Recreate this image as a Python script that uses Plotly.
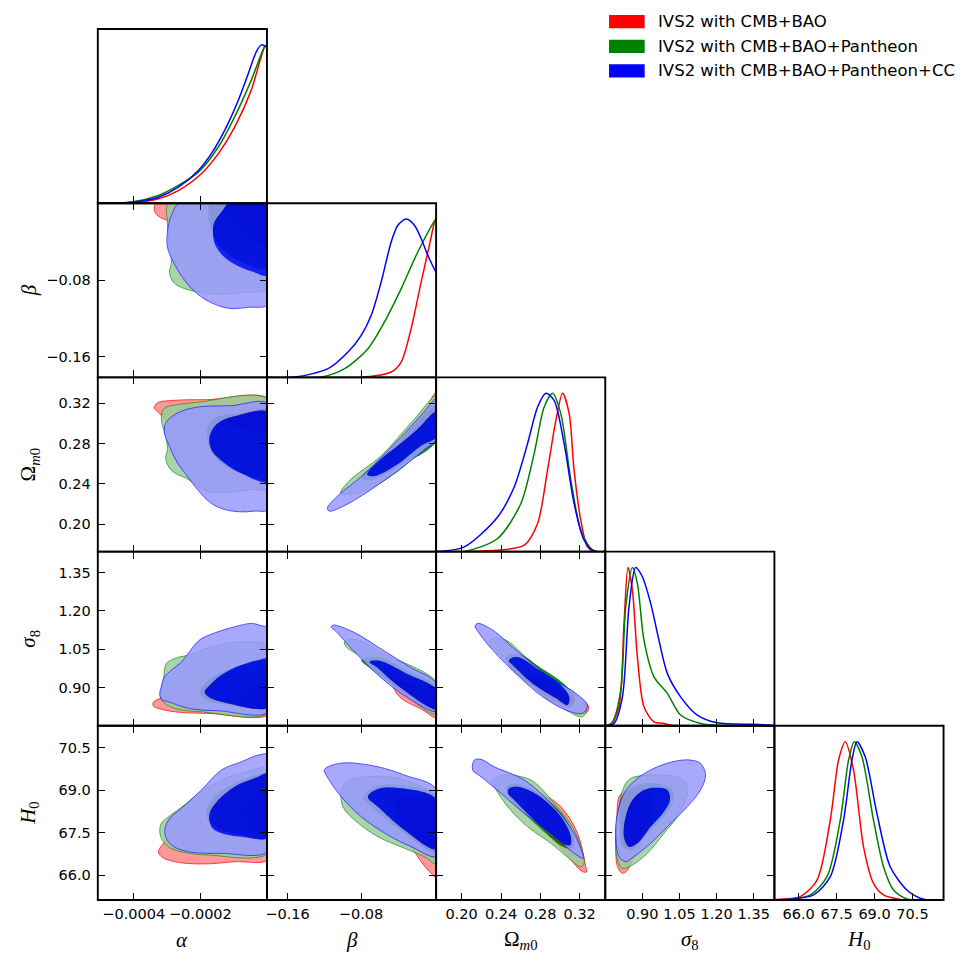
import plotly.graph_objects as go

# ---------------- labels ----------------
series_names = ["IVS2 with CMB+BAO", "IVS2 with CMB+BAO+Pantheon", "IVS2 with CMB+BAO+Pantheon+CC"]
series_colors = ["#ff0000", "#008000", "#0000ff"]
outer_fill = ["rgb(255,153,153)", "rgb(153,204,153)", "rgb(153,153,255)"]
series_alpha = [1.0, 0.85, 0.85]

alpha_ticks = [-0.0004, -0.0002]
alpha_ticktext = ["−0.0004", "−0.0002"]
beta_ticks = [-0.16, -0.08]
beta_ticktext = ["−0.16", "−0.08"]
om_ticks = [0.20, 0.24, 0.28, 0.32]
om_ticktext = ["0.20", "0.24", "0.28", "0.32"]
s8_ticks = [0.90, 1.05, 1.20, 1.35]
s8_ticktext = ["0.90", "1.05", "1.20", "1.35"]
h0_ticks = [66.0, 67.5, 69.0, 70.5]
h0_ticktext = ["66.0", "67.5", "69.0", "70.5"]

param_titles = ["<i>α</i>", "<i>β</i>", "Ω<sub><i>m</i>0</sub>", "<i>σ</i><sub>8</sub>", "<i>H</i><sub>0</sub>"]

# ---------------- 1D marginal densities (x, P/Pmax) ----------------
pdf_alpha_red = [(-5.08e-4, 0.0), (-4.07e-4, 0.004), (-3.26e-4, 0.028), (-2.66e-4, 0.080), (-1.97e-4, 0.186),
                 (-1.46e-4, 0.313), (-0.97e-4, 0.481), (-0.47e-4, 0.714), (-0.07e-4, 0.988), (0.0, 1.0)]
pdf_alpha_green = [(-5.08e-4, 0.0), (-4.07e-4, 0.008), (-3.26e-4, 0.049), (-2.66e-4, 0.112), (-2.06e-4, 0.196),
                   (-1.46e-4, 0.355), (-0.97e-4, 0.545), (-0.47e-4, 0.777), (-0.07e-4, 0.988), (0.0, 1.0)]
pdf_alpha_blue = [(-5.08e-4, 0.0), (-4.07e-4, 0.006), (-3.26e-4, 0.038), (-2.66e-4, 0.101), (-2.06e-4, 0.207),
                  (-1.67e-4, 0.313), (-1.27e-4, 0.460), (-0.86e-4, 0.650), (-0.56e-4, 0.819), (-0.32e-4, 0.956),
                  (-0.17e-4, 1.0), (-0.05e-4, 0.992), (0.0, 0.985)]

pdf_beta_red = [(-0.1824, 0.0), (-0.0798, 0.0), (-0.0472, 0.034), (-0.0363, 0.097), (-0.0255, 0.308),
                (-0.0146, 0.602), (-0.0056, 0.834), (0.0006, 0.993), (0.0017, 1.0)]
pdf_beta_green = [(-0.1824, 0.0), (-0.1232, 0.002), (-0.0979, 0.055), (-0.0725, 0.181), (-0.0545, 0.350),
                  (-0.0363, 0.561), (-0.0182, 0.792), (0.0006, 0.993), (0.0017, 1.0)]
pdf_beta_blue = [(-0.1824, 0.0), (-0.1522, 0.002), (-0.1159, 0.055), (-0.0942, 0.160), (-0.0798, 0.266),
                 (-0.0689, 0.392), (-0.0581, 0.602), (-0.0472, 0.855), (-0.0399, 0.961), (-0.0309, 1.0),
                 (-0.0219, 0.961), (-0.0146, 0.877), (-0.0073, 0.771), (0.0006, 0.676), (0.0017, 0.668)]

pdf_om_red = [(0.174, 0.0), (0.2366, 0.009), (0.2636, 0.041), (0.2772, 0.178), (0.2873, 0.514), (0.2958, 0.829),
              (0.3026, 1.0), (0.3093, 0.871), (0.3143, 0.514), (0.3211, 0.199), (0.3279, 0.030), (0.3346, 0.0),
              (0.346, 0.0)]
pdf_om_green = [(0.174, 0.0), (0.2027, 0.0), (0.2366, 0.083), (0.2602, 0.304), (0.2737, 0.619), (0.2839, 0.913),
                (0.2924, 1.0), (0.3008, 0.871), (0.3110, 0.451), (0.3211, 0.136), (0.3313, 0.020), (0.3381, 0.0),
                (0.346, 0.0)]
pdf_om_blue = [(0.174, 0.0), (0.1757, 0.0), (0.2027, 0.030), (0.2366, 0.219), (0.2534, 0.408), (0.2670, 0.682),
               (0.2772, 0.913), (0.2856, 1.0), (0.2940, 0.955), (0.3042, 0.682), (0.3143, 0.304), (0.3245, 0.072),
               (0.3346, 0.003), (0.346, 0.0)]

pdf_s8_red = [(0.75, 0.0), (0.7722, 0.004), (0.8056, 0.120), (0.8258, 0.647), (0.8419, 1.0), (0.8597, 0.857),
              (0.8798, 0.436), (0.9064, 0.120), (0.9468, 0.025), (0.9871, 0.015), (1.0141, 0.004), (1.05, 0.0),
              (1.4335, 0.0)]
pdf_s8_green = [(0.75, 0.0), (0.7790, 0.025), (0.8125, 0.225), (0.8327, 0.751), (0.8597, 1.0), (0.8798, 0.899),
                (0.9064, 0.541), (0.9468, 0.309), (1.0008, 0.205), (1.0544, 0.068), (1.1351, 0.015),
                (1.2024, 0.004), (1.30, 0.0), (1.4335, 0.0)]
pdf_s8_blue = [(0.75, 0.0), (0.7855, 0.015), (0.8194, 0.183), (0.8460, 0.751), (0.8730, 1.0), (0.9000, 0.941),
               (0.9335, 0.773), (0.9669, 0.541), (1.0008, 0.331), (1.0544, 0.183), (1.1218, 0.068),
               (1.2024, 0.019), (1.3500, 0.009), (1.4294, 0.003)]

pdf_h0_red = [(65.04, 0.0), (65.147, 0.004), (66.066, 0.021), (66.725, 0.126), (67.250, 0.505), (67.578, 0.884),
              (67.842, 1.0), (68.170, 0.820), (68.565, 0.336), (68.959, 0.105), (69.354, 0.032), (70.013, 0.004),
              (70.5, 0.0)]
pdf_h0_green = [(65.04, 0.0), (65.541, 0.004), (66.461, 0.032), (67.120, 0.147), (67.645, 0.505), (67.973, 0.884),
                (68.198, 1.0), (68.502, 0.904), (68.959, 0.505), (69.354, 0.210), (69.749, 0.063),
                (70.278, 0.006), (70.8, 0.0)]
pdf_h0_blue = [(65.04, 0.0), (65.672, 0.004), (66.591, 0.032), (67.250, 0.147), (67.775, 0.505), (68.107, 0.884),
               (68.304, 1.0), (68.632, 0.904), (69.094, 0.547), (69.619, 0.210), (70.278, 0.063),
               (70.803, 0.011), (71.067, 0.0)]

# ---------------- 2D contours (95% outer, 68% inner), (x, y) ----------------
alpha_beta_red_95 = [(-3.29e-4, 0.003), (-3.38e-4, -0.0064), (-3.26e-4, -0.0127), (-2.93e-4, -0.0179),
                     (-2.57e-4, -0.0221), (-1.97e-4, -0.0327), (-1.58e-4, -0.0379), (-0.98e-4, -0.0484),
                     (-0.47e-4, -0.0547), (1e-5, -0.0568), (1e-5, 0.003)]
alpha_beta_red_68 = [(-1.3e-4, 0.003), (-1.25e-4, -0.008), (-1.0e-4, -0.02), (-0.6e-4, -0.032), (-0.2e-4, -0.040),
                     (1e-5, -0.042), (1e-5, 0.003)]
alpha_beta_green_95 = [(-2.93e-4, 0.003), (-2.99e-4, -0.019), (-2.93e-4, -0.0432), (-2.87e-4, -0.061),
                       (-2.93e-4, -0.0716), (-2.81e-4, -0.0821), (-2.42e-4, -0.0894), (-1.46e-4, -0.0947),
                       (-0.77e-4, -0.0926), (1e-5, -0.0873), (1e-5, 0.003)]
alpha_beta_green_68 = [(-1.67e-4, 0.003), (-1.76e-4, -0.0095), (-1.70e-4, -0.0232), (-1.55e-4, -0.0379),
                       (-1.25e-4, -0.0505), (-0.77e-4, -0.061), (1e-5, -0.0674), (1e-5, 0.003)]
alpha_beta_blue_95 = [(-2.57e-4, 0.003), (-2.87e-4, -0.0116), (-2.99e-4, -0.0295), (-2.99e-4, -0.0453),
                      (-2.81e-4, -0.061), (-2.54e-4, -0.0768), (-2.21e-4, -0.0905), (-1.76e-4, -0.1021),
                      (-1.16e-4, -0.1094), (-0.56e-4, -0.1084), (1e-5, -0.1042), (1e-5, 0.003)]
alpha_beta_blue_68 = [(-1.07e-4, 0.003), (-1.37e-4, -0.0085), (-1.58e-4, -0.019), (-1.62e-4, -0.0305),
                      (-1.55e-4, -0.0432), (-1.31e-4, -0.0547), (-0.92e-4, -0.0642), (-0.47e-4, -0.0705),
                      (1e-5, -0.0747), (1e-5, 0.003)]

alpha_om_red_95 = [(1e-5, 0.3235), (-1.79e-4, 0.3237), (-2.78e-4, 0.3230), (-3.29e-4, 0.3205), (-3.38e-4, 0.3153),
                   (-3.23e-4, 0.3101), (-2.99e-4, 0.3022), (-2.48e-4, 0.2922), (-2.09e-4, 0.2840),
                   (-1.79e-4, 0.2774), (-1.69e-4, 0.2707), (-1.49e-4, 0.2674), (-0.89e-4, 0.2657),
                   (-0.38e-4, 0.2608), (1e-5, 0.2590)]
alpha_om_red_68 = [(1e-5, 0.318), (-0.8e-4, 0.314), (-1.2e-4, 0.305), (-0.9e-4, 0.296), (-0.3e-4, 0.292),
                   (1e-5, 0.291)]
alpha_om_green_95 = [(1e-5, 0.3230), (-2.09e-4, 0.3210), (-2.69e-4, 0.3187), (-3.08e-4, 0.3153), (-3.17e-4, 0.3081),
                     (-3.14e-4, 0.2982), (-3.04e-4, 0.2873), (-2.99e-4, 0.2741), (-3.04e-4, 0.2657),
                     (-2.93e-4, 0.2558), (-2.69e-4, 0.2493), (-2.44e-4, 0.2459), (-1.79e-4, 0.2327),
                     (-1.09e-4, 0.2317), (-0.49e-4, 0.2344), (1e-5, 0.2362)]
alpha_om_green_68 = [(1e-5, 0.3131), (-0.77e-4, 0.3101), (-1.52e-4, 0.3061), (-1.76e-4, 0.2982), (-1.79e-4, 0.2833),
                     (-1.61e-4, 0.2684), (-1.22e-4, 0.2565), (-0.62e-4, 0.2486), (1e-5, 0.2446)]
alpha_om_blue_95 = [(1e-5, 0.3187), (-1.09e-4, 0.3177), (-2.09e-4, 0.3163), (-2.69e-4, 0.3104), (-3.04e-4, 0.3005),
                    (-3.08e-4, 0.2905), (-2.93e-4, 0.2774), (-2.69e-4, 0.2608), (-2.39e-4, 0.2476),
                    (-2.09e-4, 0.2344), (-1.69e-4, 0.2211), (-1.28e-4, 0.2146), (-0.79e-4, 0.2122),
                    (-0.38e-4, 0.2129), (1e-5, 0.2153)]
alpha_om_blue_68 = [(1e-5, 0.3106), (-0.89e-4, 0.3078), (-1.39e-4, 0.3022), (-1.64e-4, 0.2939), (-1.73e-4, 0.2840),
                    (-1.64e-4, 0.2724), (-1.28e-4, 0.2608), (-0.79e-4, 0.2509), (1e-5, 0.2421)]

alpha_s8_red_95 = [(1e-5, 0.9417), (-0.97e-4, 0.9417), (-1.57e-4, 0.9355), (-2.17e-4, 0.9159), (-2.57e-4, 0.8831),
                   (-3.07e-4, 0.8635), (-3.41e-4, 0.8428), (-3.41e-4, 0.8271), (-3.26e-4, 0.8181),
                   (-2.77e-4, 0.8048), (-1.76e-4, 0.7985), (1e-5, 0.7977)]
alpha_s8_red_68 = [(1e-5, 0.90), (-0.5e-4, 0.895), (-0.9e-4, 0.87), (-0.6e-4, 0.835), (1e-5, 0.825)]
alpha_s8_green_95 = [(1e-5, 1.0579), (-0.77e-4, 1.0787), (-1.46e-4, 1.0657), (-1.97e-4, 1.0462), (-2.37e-4, 1.0266),
                     (-2.77e-4, 1.0137), (-3.02e-4, 0.9941), (-3.07e-4, 0.9746), (-3.11e-4, 0.9288),
                     (-3.20e-4, 0.8701), (-3.14e-4, 0.8467), (-2.77e-4, 0.8181), (-1.97e-4, 0.8048),
                     (1e-5, 0.8048)]
alpha_s8_green_68 = [(1e-5, 0.9993), (-0.77e-4, 0.9875), (-1.37e-4, 0.9601), (-1.82e-4, 0.9210), (-2.00e-4, 0.8819),
                     (-1.82e-4, 0.8506), (-1.07e-4, 0.8310), (1e-5, 0.8244)]
alpha_s8_blue_95 = [(1e-5, 1.1244), (-0.23e-4, 1.1440), (-0.47e-4, 1.1506), (-0.98e-4, 1.1373), (-1.58e-4, 1.1127),
                    (-2.03e-4, 1.0853), (-2.36e-4, 1.0344), (-2.57e-4, 0.9993), (-2.87e-4, 0.9680),
                    (-3.08e-4, 0.9406), (-3.17e-4, 0.9053), (-3.22e-4, 0.8701), (-3.14e-4, 0.8506),
                    (-2.96e-4, 0.8440), (-2.36e-4, 0.8181), (-1.46e-4, 0.8087), (1e-5, 0.8087)]
alpha_s8_blue_68 = [(1e-5, 1.0110), (-0.26e-4, 1.0071), (-0.77e-4, 0.9875), (-1.37e-4, 0.9484), (-1.76e-4, 0.9026),
                    (-1.87e-4, 0.8831), (-1.76e-4, 0.8635), (-1.16e-4, 0.8377), (1e-5, 0.8252)]

alpha_h0_red_95 = [(1e-5, 69.364), (-0.97e-4, 69.128), (-1.57e-4, 68.659), (-2.17e-4, 68.246), (-2.66e-4, 67.837),
                   (-2.96e-4, 67.364), (-3.07e-4, 67.188), (-3.22e-4, 66.955), (-3.26e-4, 66.835),
                   (-3.17e-4, 66.658), (-2.77e-4, 66.482), (-1.97e-4, 66.401), (-0.97e-4, 66.482),
                   (1e-5, 66.602)]
alpha_h0_red_68 = [(1e-5, 69.012), (-0.62e-4, 68.659), (-0.77e-4, 68.130), (-0.47e-4, 67.601), (1e-5, 67.424)]
alpha_h0_green_95 = [(1e-5, 69.742), (-0.77e-4, 69.601), (-1.37e-4, 69.364), (-1.97e-4, 68.952), (-2.57e-4, 68.401),
                     (-2.96e-4, 68.069), (-3.17e-4, 67.837), (-3.22e-4, 67.601), (-3.17e-4, 67.307),
                     (-2.96e-4, 67.011), (-2.57e-4, 66.835), (-1.76e-4, 66.718), (1e-5, 66.835)]
alpha_h0_green_68 = [(1e-5, 69.541), (-1.07e-4, 69.188), (-1.67e-4, 68.659), (-1.82e-4, 68.130), (-1.52e-4, 67.671),
                     (-0.77e-4, 67.424), (1e-5, 67.318)]
alpha_h0_blue_95 = [(1e-5, 70.246), (-0.26e-4, 70.246), (-0.77e-4, 70.010), (-1.37e-4, 69.717), (-1.97e-4, 69.012),
                    (-2.57e-4, 68.366), (-2.96e-4, 67.953), (-3.07e-4, 67.484), (-2.87e-4, 67.071),
                    (-2.36e-4, 66.835), (-1.37e-4, 66.778), (1e-5, 66.895)]
alpha_h0_blue_68 = [(1e-5, 69.601), (-0.37e-4, 69.424), (-0.97e-4, 69.128), (-1.46e-4, 68.659), (-1.72e-4, 68.189),
                    (-1.67e-4, 67.717), (-1.37e-4, 67.484), (-0.77e-4, 67.364), (1e-5, 67.364)]

beta_om_red_95 = [(-0.0515, 0.2625), (-0.0407, 0.2783), (-0.0233, 0.2982), (-0.0092, 0.3160), (0.0027, 0.3319),
                  (0.0027, 0.3131), (-0.0045, 0.3071), (-0.0225, 0.2922), (-0.0407, 0.2757)]
beta_om_red_68 = [(-0.0309, 0.2823), (-0.0146, 0.3022), (0.0027, 0.3210), (0.0027, 0.3121), (-0.0146, 0.2962),
                  (-0.0309, 0.2793)]
beta_om_green_95 = [(-0.1023, 0.2310), (-0.0914, 0.2443), (-0.0588, 0.2674), (-0.0225, 0.3038), (0.0027, 0.3279),
                    (0.0027, 0.2833), (-0.0045, 0.2803), (-0.0407, 0.2521), (-0.0768, 0.2327), (-0.0986, 0.2297)]
beta_om_green_68 = [(-0.0798, 0.2456), (-0.0635, 0.2615), (-0.0407, 0.2793), (0.0027, 0.3180), (0.0027, 0.2833),
                    (-0.0407, 0.2565), (-0.0689, 0.2436)]
beta_om_blue_95 = [(-0.1167, 0.2158), (-0.1058, 0.2278), (-0.0768, 0.2496), (-0.0407, 0.2823), (-0.0117, 0.3111),
                   (0.0027, 0.3250), (0.0027, 0.2853), (-0.0117, 0.2734), (-0.0407, 0.2526), (-0.0768, 0.2297),
                   (-0.1015, 0.2168), (-0.1145, 0.2129)]
beta_om_blue_68 = [(-0.0733, 0.2493), (-0.0588, 0.2642), (-0.0407, 0.2774), (-0.0190, 0.2939), (0.0027, 0.3121),
                   (0.0027, 0.2873), (-0.0154, 0.2774), (-0.0407, 0.2592), (-0.0660, 0.2476)]

beta_s8_red_95 = [(-0.0490, 0.9417), (-0.0309, 0.9355), (0.0027, 0.8780), (0.0027, 0.7802), (-0.0019, 0.7853),
                  (-0.0128, 0.8115), (-0.0382, 0.8635), (-0.0472, 0.9210)]
beta_s8_red_68 = [(-0.0418, 0.9210), (-0.0255, 0.9171), (0.0027, 0.8623), (0.0027, 0.7958), (-0.0146, 0.8310),
                  (-0.0363, 0.8819)]
beta_s8_green_95 = [(-0.0979, 1.0787), (-0.0852, 1.0873), (-0.0562, 1.0333), (0.0027, 0.9171), (0.0027, 0.7958),
                    (-0.0382, 0.8897), (-0.0743, 1.0071), (-0.0961, 1.0591)]
beta_s8_green_68 = [(-0.0798, 1.0071), (-0.0602, 1.0188), (-0.0309, 0.9680), (0.0027, 0.9014), (0.0027, 0.8076),
                    (-0.0385, 0.8936), (-0.0689, 0.9719)]
beta_s8_blue_95 = [(-0.1105, 1.1440), (-0.0888, 1.1178), (-0.0562, 1.0462), (-0.0273, 0.9809), (0.0027, 0.9132),
                   (0.0027, 0.8076), (-0.0309, 0.8635), (-0.0635, 0.9550), (-0.0888, 1.0462), (-0.1069, 1.1178),
                   (-0.1124, 1.1362)]
beta_s8_blue_68 = [(-0.0708, 1.0004), (-0.0599, 1.0043), (-0.0309, 0.9550), (0.0027, 0.8897), (0.0027, 0.8154),
                   (-0.0382, 0.9026), (-0.0635, 0.9809)]

beta_h0_red_95 = [(-0.0508, 68.895), (-0.0291, 68.987), (-0.0073, 68.895), (0.0027, 68.765), (0.0027, 65.942),
                  (-0.0073, 66.189), (-0.0182, 66.658), (-0.0363, 67.601), (-0.0472, 68.422), (-0.0537, 68.765)]
beta_h0_red_68 = [(-0.0418, 68.659), (-0.0255, 68.765), (0.0027, 68.553), (0.0027, 66.542), (-0.0146, 67.071),
                  (-0.0342, 67.777)]
beta_h0_green_95 = [(-0.0961, 69.304), (-0.0798, 69.460), (-0.0436, 69.460), (-0.0182, 69.188), (0.0027, 68.765),
                    (0.0027, 66.401), (-0.0110, 66.658), (-0.0327, 66.955), (-0.0616, 67.364), (-0.0871, 67.953),
                    (-0.0997, 68.422), (-0.1015, 69.012)]
beta_h0_green_68 = [(-0.0776, 68.765), (-0.0624, 69.153), (-0.0363, 69.188), (0.0027, 68.765), (0.0027, 66.824),
                    (-0.0331, 67.494), (-0.0646, 68.306)]
beta_h0_blue_95 = [(-0.1159, 69.834), (-0.0979, 69.975), (-0.0616, 69.834), (-0.0327, 69.541), (0.0027, 69.012),
                   (0.0027, 66.683), (-0.0255, 67.011), (-0.0508, 67.424), (-0.0798, 68.069), (-0.1015, 68.775),
                   (-0.1159, 69.424), (-0.1200, 69.717)]
beta_h0_blue_68 = [(-0.0725, 68.775), (-0.0616, 69.047), (-0.0363, 69.071), (0.0027, 68.659), (0.0027, 66.930),
                   (-0.0327, 67.601), (-0.0616, 68.422)]

om_s8_red_95 = [(0.2653, 0.9417), (0.2788, 0.9445), (0.3059, 0.8897), (0.3229, 0.8506), (0.3292, 0.8232),
                (0.3262, 0.7985), (0.3127, 0.8115), (0.2890, 0.8506), (0.2687, 0.9159), (0.2633, 0.9288)]
om_s8_red_68 = [(0.2674, 0.9288), (0.2805, 0.9366), (0.3029, 0.8897), (0.3150, 0.8506), (0.3110, 0.8232),
                (0.2958, 0.8389), (0.2755, 0.8897)]
om_s8_green_95 = [(0.2315, 1.0919), (0.2450, 1.0853), (0.2687, 1.0071), (0.2958, 0.9288), (0.3194, 0.8635),
                  (0.3272, 0.8193), (0.3229, 0.7853), (0.3059, 0.8115), (0.2856, 0.8635), (0.2585, 0.9550),
                  (0.2349, 1.0462), (0.2288, 1.0735)]
om_s8_green_68 = [(0.2450, 1.0188), (0.2582, 1.0305), (0.2805, 0.9758), (0.3029, 0.9171), (0.3150, 0.8584),
                  (0.3110, 0.8232), (0.2958, 0.8467), (0.2704, 0.9093), (0.2481, 0.9836)]
om_s8_blue_95 = [(0.2163, 1.1506), (0.2315, 1.1244), (0.2552, 1.0462), (0.2890, 0.9417), (0.3161, 0.8768),
                 (0.3279, 0.8310), (0.3229, 0.7985), (0.3059, 0.8115), (0.2823, 0.8635), (0.2585, 0.9417),
                 (0.2315, 1.0462), (0.2179, 1.1115), (0.2136, 1.1401)]
om_s8_blue_68 = [(0.2501, 1.0137), (0.2585, 1.0176), (0.2788, 0.9680), (0.2991, 0.9159), (0.3093, 0.8635),
                 (0.3076, 0.8310), (0.2958, 0.8584), (0.2721, 0.9159), (0.2518, 0.9875), (0.2481, 1.0032)]

om_h0_red_95 = [(0.2636, 68.952), (0.2772, 68.952), (0.3008, 68.422), (0.3178, 67.484), (0.3262, 66.306),
                (0.3272, 66.129), (0.3229, 66.129), (0.3110, 66.542), (0.2940, 67.248), (0.2772, 67.953),
                (0.2636, 68.659), (0.2613, 68.835)]
om_h0_red_68 = [(0.2674, 68.659), (0.2805, 68.729), (0.3008, 68.130), (0.3130, 67.318), (0.3130, 66.895),
                (0.3029, 66.965), (0.2856, 67.530), (0.2704, 68.130)]
om_h0_green_95 = [(0.2332, 69.424), (0.2433, 69.541), (0.2704, 69.364), (0.2940, 68.542), (0.3143, 67.601),
                  (0.3245, 66.425), (0.3211, 66.306), (0.3110, 66.542), (0.2907, 67.131), (0.2670, 67.717),
                  (0.2468, 68.422), (0.2332, 69.128), (0.2308, 69.294)]
om_h0_green_68 = [(0.2450, 69.117), (0.2572, 69.223), (0.2785, 68.906), (0.3029, 68.130), (0.3140, 67.318),
                  (0.3120, 66.965), (0.3039, 67.000), (0.2907, 67.318), (0.2704, 67.953), (0.2501, 68.659)]
om_h0_blue_95 = [(0.2129, 70.070), (0.2197, 70.095), (0.2332, 69.834), (0.2636, 69.364), (0.2940, 68.422),
                 (0.3143, 67.484), (0.3229, 66.778), (0.3239, 66.602), (0.3143, 66.778), (0.2907, 67.484),
                 (0.2636, 68.189), (0.2400, 68.895), (0.2197, 69.481), (0.2112, 69.717)]
om_h0_blue_68 = [(0.2484, 69.071), (0.2569, 69.128), (0.2772, 68.835), (0.3008, 68.069), (0.3110, 67.364),
                 (0.3103, 67.071), (0.3059, 67.071), (0.2940, 67.364), (0.2737, 67.953), (0.2535, 68.659),
                 (0.2471, 68.906)]

s8_h0_red_95 = [(0.8056, 68.775), (0.8258, 68.952), (0.8798, 69.036), (0.9266, 68.952), (0.9403, 68.542),
                (0.9335, 67.953), (0.9064, 67.364), (0.8661, 66.658), (0.8395, 66.189), (0.8194, 66.073),
                (0.7992, 66.306), (0.7923, 67.011), (0.7964, 67.953)]
s8_h0_red_68 = [(0.8206, 68.482), (0.8609, 68.835), (0.9133, 68.835), (0.9335, 68.482), (0.9133, 67.777),
                (0.8730, 67.071), (0.8327, 66.965), (0.8125, 67.601)]
s8_h0_green_95 = [(0.8528, 69.424), (0.9605, 69.541), (1.0544, 69.424), (1.0814, 69.128), (1.0746, 68.659),
                  (1.0411, 68.069), (0.9871, 67.484), (0.9202, 66.778), (0.8597, 66.365), (0.8194, 66.249),
                  (0.7992, 66.542), (0.7923, 67.484), (0.8056, 68.422), (0.8258, 69.128)]
s8_h0_green_68 = [(0.8125, 68.659), (0.8528, 69.082), (0.9133, 69.258), (0.9738, 69.223), (1.0222, 69.012),
                  (1.0222, 68.553), (0.9818, 68.024), (0.9133, 67.424), (0.8528, 66.895), (0.8165, 67.071),
                  (0.8085, 67.777)]
s8_h0_blue_95 = [(1.0411, 70.045), (1.0947, 70.070), (1.1351, 69.953), (1.1553, 69.541), (1.1351, 69.012),
                 (1.0814, 68.422), (1.0008, 67.717), (0.9335, 67.131), (0.8661, 66.658), (0.8327, 66.482),
                 (0.8056, 66.658), (0.7923, 67.601), (0.7992, 68.189), (0.8258, 68.895), (0.8798, 69.424),
                 (0.9605, 69.834)]
s8_h0_blue_68 = [(0.9064, 69.012), (0.9536, 69.093), (1.0008, 69.012), (1.0113, 68.659), (0.9871, 68.246),
                 (0.9335, 67.717), (0.8798, 67.131), (0.8460, 67.011), (0.8258, 67.364), (0.8327, 68.069),
                 (0.8597, 68.659)]

# ---------------- assemble ----------------
pdfs = {
    0: [pdf_alpha_red, pdf_alpha_green, pdf_alpha_blue],
    1: [pdf_beta_red, pdf_beta_green, pdf_beta_blue],
    2: [pdf_om_red, pdf_om_green, pdf_om_blue],
    3: [pdf_s8_red, pdf_s8_green, pdf_s8_blue],
    4: [pdf_h0_red, pdf_h0_green, pdf_h0_blue],
}
contours = {
    (1, 0): [(alpha_beta_red_95, alpha_beta_red_68), (alpha_beta_green_95, alpha_beta_green_68), (alpha_beta_blue_95, alpha_beta_blue_68)],
    (2, 0): [(alpha_om_red_95, alpha_om_red_68), (alpha_om_green_95, alpha_om_green_68), (alpha_om_blue_95, alpha_om_blue_68)],
    (3, 0): [(alpha_s8_red_95, alpha_s8_red_68), (alpha_s8_green_95, alpha_s8_green_68), (alpha_s8_blue_95, alpha_s8_blue_68)],
    (4, 0): [(alpha_h0_red_95, alpha_h0_red_68), (alpha_h0_green_95, alpha_h0_green_68), (alpha_h0_blue_95, alpha_h0_blue_68)],
    (2, 1): [(beta_om_red_95, beta_om_red_68), (beta_om_green_95, beta_om_green_68), (beta_om_blue_95, beta_om_blue_68)],
    (3, 1): [(beta_s8_red_95, beta_s8_red_68), (beta_s8_green_95, beta_s8_green_68), (beta_s8_blue_95, beta_s8_blue_68)],
    (4, 1): [(beta_h0_red_95, beta_h0_red_68), (beta_h0_green_95, beta_h0_green_68), (beta_h0_blue_95, beta_h0_blue_68)],
    (3, 2): [(om_s8_red_95, om_s8_red_68), (om_s8_green_95, om_s8_green_68), (om_s8_blue_95, om_s8_blue_68)],
    (4, 2): [(om_h0_red_95, om_h0_red_68), (om_h0_green_95, om_h0_green_68), (om_h0_blue_95, om_h0_blue_68)],
    (4, 3): [(s8_h0_red_95, s8_h0_red_68), (s8_h0_green_95, s8_h0_green_68), (s8_h0_blue_95, s8_h0_blue_68)],
}
ticks = [(alpha_ticks, alpha_ticktext), (beta_ticks, beta_ticktext), (om_ticks, om_ticktext),
         (s8_ticks, s8_ticktext), (h0_ticks, h0_ticktext)]

W, H = 973, 970
col_px = [96, 265.5, 435, 604.5, 774, 943.5]
row_px = [29, 203.2, 377.4, 551.6, 725.8, 900]
x_ranges = [[-0.000508, 0.0], [-0.1824, 0.0017], [0.174, 0.346], [0.75, 1.4335], [65.04, 71.73]]
y_ranges = [None, [-0.182, 0.001], [0.1727, 0.3458], [0.75, 1.4315], [65.13, 71.28]]


def closed(pts, xr, yr):
    xs = [(p[0] - xr[0]) / (xr[1] - xr[0]) for p in pts]
    ys = [(p[1] - yr[0]) / (yr[1] - yr[0]) for p in pts]
    area = sum(xs[i] * ys[(i + 1) % len(xs)] - xs[(i + 1) % len(xs)] * ys[i] for i in range(len(xs)))
    cx = [p[0] for p in pts] + [pts[0][0]]
    cy = [p[1] for p in pts] + [pts[0][1]]
    return cx, cy, area


tick_font = dict(family="DejaVu Sans", size=14.5, color="black")
axis_common = dict(showgrid=False, zeroline=False, showline=False,
                   ticks="inside", ticklen=7, tickwidth=1.4, tickcolor="black", tickfont=tick_font)

fig = go.Figure()
layout_axes = {}
shapes = []
k = 0
for r in range(5):
    for c in range(r + 1):
        k += 1
        xname = "xaxis" if k == 1 else f"xaxis{k}"
        yname = "yaxis" if k == 1 else f"yaxis{k}"
        xref = "x" if k == 1 else f"x{k}"
        yref = "y" if k == 1 else f"y{k}"
        xdom = [col_px[c] / W, col_px[c + 1] / W]
        ydom = [1 - row_px[r + 1] / H, 1 - row_px[r] / H]
        is1d = (r == c)
        tv, tt = ticks[c]
        layout_axes[xname] = dict(axis_common, domain=xdom, range=x_ranges[c], tickvals=tv, ticktext=tt,
                                  showticklabels=(r == 4), mirror=(False if is1d else "allticks"),
                                  anchor=yref, ticklabelstandoff=3)
        shapes.append(dict(type="rect", xref="paper", yref="paper", x0=xdom[0], x1=xdom[1], y0=ydom[0],
                           y1=ydom[1], line=dict(color="black", width=1.9), fillcolor="rgba(0,0,0,0)",
                           layer="above"))
        if is1d:
            layout_axes[yname] = dict(showgrid=False, zeroline=False, showline=False, ticks="",
                                      showticklabels=False, domain=ydom, range=[0, 1.1], anchor=xref)
            for d in range(3):
                pts = pdfs[c][d]
                fig.add_trace(go.Scatter(x=[p[0] for p in pts], y=[p[1] for p in pts], mode="lines",
                                         line=dict(color=series_colors[d], width=1.5, shape="spline", smoothing=0.8),
                                         xaxis=xref, yaxis=yref, showlegend=False, hoverinfo="skip"))
        else:
            tvy, tty = ticks[r]
            layout_axes[yname] = dict(axis_common, domain=ydom, range=y_ranges[r], tickvals=tvy, ticktext=tty,
                                      showticklabels=(c == 0), mirror="allticks", anchor=xref,
                                      ticklabelstandoff=6)
            for d in range(3):
                outer, inner = contours[(r, c)][d]
                ox, oy, oa = closed(outer, x_ranges[c], y_ranges[r])
                ix, iy, ia = closed(inner, x_ranges[c], y_ranges[r])
                if (oa > 0) == (ia > 0):
                    hx, hy = ix[::-1], iy[::-1]
                else:
                    hx, hy = ix, iy
                # outer (95%) band with the 68% region cut out
                fig.add_trace(go.Scatter(x=ox + [None] + hx, y=oy + [None] + hy, mode="lines", fill="toself",
                                         fillcolor=outer_fill[d],
                                         line=dict(color=series_colors[d], width=0, shape="spline", smoothing=1.0),
                                         opacity=series_alpha[d], xaxis=xref, yaxis=yref,
                                         showlegend=False, hoverinfo="skip"))
                # inner (68%) region
                fig.add_trace(go.Scatter(x=ix, y=iy, mode="lines", fill="toself", fillcolor=series_colors[d],
                                         line=dict(color=series_colors[d], width=0, shape="spline", smoothing=1.0),
                                         opacity=series_alpha[d], xaxis=xref, yaxis=yref,
                                         showlegend=False, hoverinfo="skip"))
                # outer contour line
                fig.add_trace(go.Scatter(x=ox, y=oy, mode="lines",
                                         line=dict(color=series_colors[d], width=0.7, shape="spline", smoothing=1.0),
                                         opacity=series_alpha[d], xaxis=xref, yaxis=yref,
                                         showlegend=False, hoverinfo="skip"))

annotations = []
title_font = dict(family="Liberation Serif", size=21, color="black")
for c in range(5):
    annotations.append(dict(x=(col_px[c] + col_px[c + 1]) / 2 / W, y=1 - 940 / H, xref="paper", yref="paper",
                            text=param_titles[c], showarrow=False, font=title_font,
                            xanchor="center", yanchor="middle"))
for r in range(1, 5):
    annotations.append(dict(x=27 / W, y=1 - (row_px[r] + row_px[r + 1]) / 2 / H, xref="paper", yref="paper",
                            text=param_titles[r], showarrow=False, font=title_font, textangle=-90,
                            xanchor="center", yanchor="middle"))

legend_rows = [21.7, 46.3, 70.8]
for d in range(3):
    yc = legend_rows[d]
    shapes.append(dict(type="rect", xref="paper", yref="paper", x0=608.3 / W, x1=644 / W,
                       y0=1 - (yc + 6.6) / H, y1=1 - (yc - 6.6) / H,
                       fillcolor=series_colors[d], line=dict(width=0)))
    annotations.append(dict(x=655 / W, y=1 - yc / H, xref="paper", yref="paper", text=series_names[d],
                            showarrow=False, font=dict(family="DejaVu Sans", size=16.5, color="black"),
                            xanchor="left", yanchor="middle"))

fig.update_layout(width=W, height=H, margin=dict(l=0, r=0, t=0, b=0), paper_bgcolor="white",
                  plot_bgcolor="white", showlegend=False, annotations=annotations, shapes=shapes,
                  **layout_axes)

fig.write_html("out.html")
